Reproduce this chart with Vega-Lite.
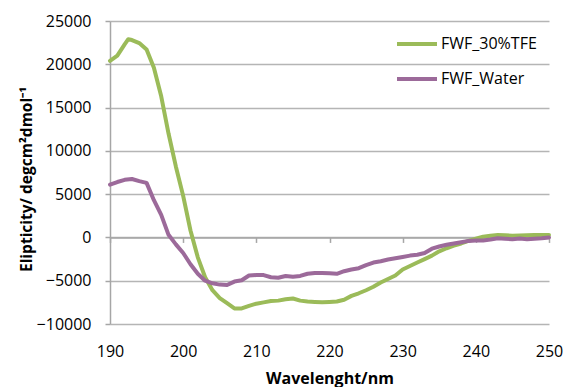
{
  "$schema": "https://vega.github.io/schema/vega-lite/v6.json",
  "autosize": "none",
  "width": 439,
  "height": 303,
  "padding": {"left": 110, "top": 21, "right": 16, "bottom": 63},
  "background": "white",
  "config": {
    "view": {"stroke": null},
    "font": "Open Sans"
  },
  "datasets": {
    "cd": [
      {"nm": 190, "s": "FWF_30%TFE", "v": 20400},
      {"nm": 191, "s": "FWF_30%TFE", "v": 21000},
      {"nm": 192, "s": "FWF_30%TFE", "v": 22300},
      {"nm": 192.5, "s": "FWF_30%TFE", "v": 22900},
      {"nm": 193, "s": "FWF_30%TFE", "v": 22800},
      {"nm": 194, "s": "FWF_30%TFE", "v": 22450},
      {"nm": 195, "s": "FWF_30%TFE", "v": 21700},
      {"nm": 196, "s": "FWF_30%TFE", "v": 19600},
      {"nm": 197, "s": "FWF_30%TFE", "v": 16300},
      {"nm": 198, "s": "FWF_30%TFE", "v": 12000},
      {"nm": 199, "s": "FWF_30%TFE", "v": 8200},
      {"nm": 200, "s": "FWF_30%TFE", "v": 4800},
      {"nm": 201, "s": "FWF_30%TFE", "v": 800},
      {"nm": 202, "s": "FWF_30%TFE", "v": -2300},
      {"nm": 203, "s": "FWF_30%TFE", "v": -4600},
      {"nm": 204, "s": "FWF_30%TFE", "v": -6100},
      {"nm": 205, "s": "FWF_30%TFE", "v": -7000},
      {"nm": 206, "s": "FWF_30%TFE", "v": -7600},
      {"nm": 207, "s": "FWF_30%TFE", "v": -8200},
      {"nm": 208, "s": "FWF_30%TFE", "v": -8200},
      {"nm": 209, "s": "FWF_30%TFE", "v": -7900},
      {"nm": 210, "s": "FWF_30%TFE", "v": -7650},
      {"nm": 211, "s": "FWF_30%TFE", "v": -7500},
      {"nm": 212, "s": "FWF_30%TFE", "v": -7350},
      {"nm": 213, "s": "FWF_30%TFE", "v": -7300},
      {"nm": 214, "s": "FWF_30%TFE", "v": -7150},
      {"nm": 215, "s": "FWF_30%TFE", "v": -7050},
      {"nm": 216, "s": "FWF_30%TFE", "v": -7300},
      {"nm": 217, "s": "FWF_30%TFE", "v": -7400},
      {"nm": 218, "s": "FWF_30%TFE", "v": -7450},
      {"nm": 219, "s": "FWF_30%TFE", "v": -7500},
      {"nm": 220, "s": "FWF_30%TFE", "v": -7450},
      {"nm": 221, "s": "FWF_30%TFE", "v": -7400},
      {"nm": 222, "s": "FWF_30%TFE", "v": -7200},
      {"nm": 223, "s": "FWF_30%TFE", "v": -6750},
      {"nm": 224, "s": "FWF_30%TFE", "v": -6450},
      {"nm": 225, "s": "FWF_30%TFE", "v": -6100},
      {"nm": 226, "s": "FWF_30%TFE", "v": -5700},
      {"nm": 227, "s": "FWF_30%TFE", "v": -5200},
      {"nm": 228, "s": "FWF_30%TFE", "v": -4800},
      {"nm": 229, "s": "FWF_30%TFE", "v": -4400},
      {"nm": 230, "s": "FWF_30%TFE", "v": -3700},
      {"nm": 231, "s": "FWF_30%TFE", "v": -3300},
      {"nm": 232, "s": "FWF_30%TFE", "v": -2900},
      {"nm": 233, "s": "FWF_30%TFE", "v": -2500},
      {"nm": 234, "s": "FWF_30%TFE", "v": -2100},
      {"nm": 235, "s": "FWF_30%TFE", "v": -1600},
      {"nm": 236, "s": "FWF_30%TFE", "v": -1250},
      {"nm": 237, "s": "FWF_30%TFE", "v": -950},
      {"nm": 238, "s": "FWF_30%TFE", "v": -700},
      {"nm": 239, "s": "FWF_30%TFE", "v": -400},
      {"nm": 240, "s": "FWF_30%TFE", "v": -150},
      {"nm": 241, "s": "FWF_30%TFE", "v": 80},
      {"nm": 242, "s": "FWF_30%TFE", "v": 200},
      {"nm": 243, "s": "FWF_30%TFE", "v": 280},
      {"nm": 244, "s": "FWF_30%TFE", "v": 250},
      {"nm": 245, "s": "FWF_30%TFE", "v": 200},
      {"nm": 246, "s": "FWF_30%TFE", "v": 220},
      {"nm": 247, "s": "FWF_30%TFE", "v": 250},
      {"nm": 248, "s": "FWF_30%TFE", "v": 270},
      {"nm": 249, "s": "FWF_30%TFE", "v": 280},
      {"nm": 250, "s": "FWF_30%TFE", "v": 290},
      {"nm": 190, "s": "FWF_Water", "v": 6100},
      {"nm": 191, "s": "FWF_Water", "v": 6400},
      {"nm": 192, "s": "FWF_Water", "v": 6650},
      {"nm": 193, "s": "FWF_Water", "v": 6750},
      {"nm": 194, "s": "FWF_Water", "v": 6500},
      {"nm": 195, "s": "FWF_Water", "v": 6300},
      {"nm": 196, "s": "FWF_Water", "v": 4300},
      {"nm": 197, "s": "FWF_Water", "v": 2600},
      {"nm": 198, "s": "FWF_Water", "v": 300},
      {"nm": 199, "s": "FWF_Water", "v": -800},
      {"nm": 200, "s": "FWF_Water", "v": -1800},
      {"nm": 201, "s": "FWF_Water", "v": -3100},
      {"nm": 202, "s": "FWF_Water", "v": -4200},
      {"nm": 203, "s": "FWF_Water", "v": -5000},
      {"nm": 204, "s": "FWF_Water", "v": -5300},
      {"nm": 205, "s": "FWF_Water", "v": -5450},
      {"nm": 206, "s": "FWF_Water", "v": -5500},
      {"nm": 207, "s": "FWF_Water", "v": -5100},
      {"nm": 208, "s": "FWF_Water", "v": -4950},
      {"nm": 209, "s": "FWF_Water", "v": -4400},
      {"nm": 210, "s": "FWF_Water", "v": -4350},
      {"nm": 211, "s": "FWF_Water", "v": -4350},
      {"nm": 212, "s": "FWF_Water", "v": -4600},
      {"nm": 213, "s": "FWF_Water", "v": -4650},
      {"nm": 214, "s": "FWF_Water", "v": -4450},
      {"nm": 215, "s": "FWF_Water", "v": -4550},
      {"nm": 216, "s": "FWF_Water", "v": -4450},
      {"nm": 217, "s": "FWF_Water", "v": -4200},
      {"nm": 218, "s": "FWF_Water", "v": -4100},
      {"nm": 219, "s": "FWF_Water", "v": -4100},
      {"nm": 220, "s": "FWF_Water", "v": -4150},
      {"nm": 221, "s": "FWF_Water", "v": -4200},
      {"nm": 222, "s": "FWF_Water", "v": -3900},
      {"nm": 223, "s": "FWF_Water", "v": -3700},
      {"nm": 224, "s": "FWF_Water", "v": -3550},
      {"nm": 225, "s": "FWF_Water", "v": -3200},
      {"nm": 226, "s": "FWF_Water", "v": -2900},
      {"nm": 227, "s": "FWF_Water", "v": -2750},
      {"nm": 228, "s": "FWF_Water", "v": -2550},
      {"nm": 229, "s": "FWF_Water", "v": -2400},
      {"nm": 230, "s": "FWF_Water", "v": -2250},
      {"nm": 231, "s": "FWF_Water", "v": -2100},
      {"nm": 232, "s": "FWF_Water", "v": -2000},
      {"nm": 233, "s": "FWF_Water", "v": -1800},
      {"nm": 234, "s": "FWF_Water", "v": -1300},
      {"nm": 235, "s": "FWF_Water", "v": -1050},
      {"nm": 236, "s": "FWF_Water", "v": -850},
      {"nm": 237, "s": "FWF_Water", "v": -700},
      {"nm": 238, "s": "FWF_Water", "v": -550},
      {"nm": 239, "s": "FWF_Water", "v": -400},
      {"nm": 240, "s": "FWF_Water", "v": -350},
      {"nm": 241, "s": "FWF_Water", "v": -350},
      {"nm": 242, "s": "FWF_Water", "v": -250},
      {"nm": 243, "s": "FWF_Water", "v": -100},
      {"nm": 244, "s": "FWF_Water", "v": -150},
      {"nm": 245, "s": "FWF_Water", "v": -200},
      {"nm": 246, "s": "FWF_Water", "v": -120},
      {"nm": 247, "s": "FWF_Water", "v": -200},
      {"nm": 248, "s": "FWF_Water", "v": -150},
      {"nm": 249, "s": "FWF_Water", "v": -100},
      {"nm": 250, "s": "FWF_Water", "v": 0}
    ]
  },
  "data": {"name": "cd"},
  "resolve": {"axis": {"x": "independent"}},
  "layer": [
    {
      "mark": {"type": "line", "strokeWidth": 4, "strokeJoin": "round", "opacity": 0},
      "encoding": {
        "x": {
          "field": "nm", "type": "quantitative",
          "scale": {"domain": [190, 250], "nice": false, "zero": false},
          "axis": {
            "orient": "bottom",
            "offset": -86.57, "labels": false, "title": null, "grid": false,
            "domain": true, "domainColor": "#a6a6a6", "domainWidth": 1.5,
            "ticks": true, "tickColor": "#a6a6a6", "tickWidth": 1.5, "tickSize": 5,
            "values": [190, 200, 210, 220, 230, 240, 250]
          }
        },
        "y": {
          "field": "v", "type": "quantitative",
          "scale": {"domain": [-10000, 25000], "nice": false, "zero": false}
        }
      }
    },
    {
      "mark": {"type": "line", "strokeWidth": 4, "strokeJoin": "round", "strokeCap": "round"},
      "encoding": {
        "x": {
          "field": "nm", "type": "quantitative",
          "scale": {"domain": [190, 250], "nice": false, "zero": false},
          "axis": {
            "orient": "bottom",
            "title": "Wavelenght/nm",
            "values": [190, 200, 210, 220, 230, 240, 250],
            "grid": false, "domain": false, "ticks": false,
            "labelFlush": false,
            "labelFontSize": 16, "labelColor": "#000000", "labelPadding": 19,
            "labelFont": "Open Sans",
            "titleFont": "Open Sans", "titleFontSize": 16, "titleFontWeight": "bold",
            "titleColor": "#000000", "titlePadding": 11
          }
        },
        "y": {
          "field": "v", "type": "quantitative",
          "scale": {"domain": [-10000, 25000], "nice": false, "zero": false},
          "axis": {
            "title": "Elipticity/ degcm²dmol⁻¹",
            "values": [-10000, -5000, 0, 5000, 10000, 15000, 20000, 25000],
            "format": "d",
            "grid": true, "gridColor": "#b5b5b5", "gridWidth": 1.5,
            "domain": true, "domainColor": "#a6a6a6", "domainWidth": 1.5,
            "ticks": true, "tickColor": "#a6a6a6", "tickWidth": 1.5, "tickSize": 5,
            "labelFontSize": 16, "labelColor": "#000000", "labelPadding": 14,
            "labelFont": "Open Sans",
            "titleFont": "Open Sans", "titleFontSize": 15.5, "titleFontWeight": "bold",
            "titleColor": "#000000", "titlePadding": 2, "titleY": 158
          }
        },
        "color": {
          "field": "s", "type": "nominal",
          "scale": {"domain": ["FWF_30%TFE", "FWF_Water"], "range": ["#9BBB59", "#9C6A9A"]},
          "legend": {
            "title": null, "orient": "none", "legendX": 285, "legendY": 1,
            "symbolType": "stroke", "symbolSize": 1600, "symbolStrokeWidth": 4,
            "labelFontSize": 16, "labelFont": "Open Sans", "labelColor": "#000000",
            "labelOffset": 2, "rowPadding": 5
          }
        }
      }
    }
  ]
}
